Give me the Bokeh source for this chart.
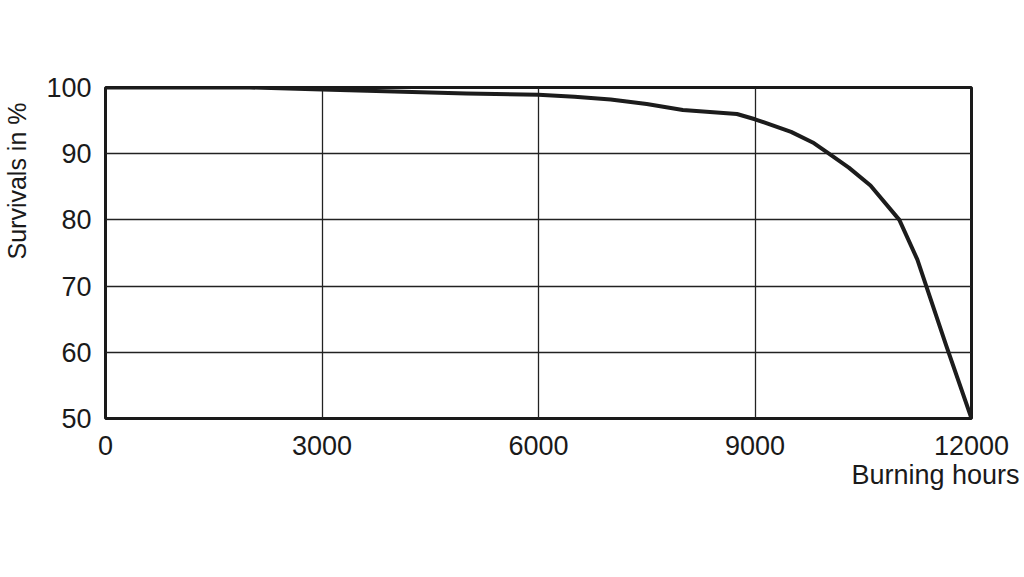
from bokeh.plotting import figure
from bokeh.models import Range1d, FixedTicker, Title
from bokeh.embed import file_html
from bokeh.resources import INLINE

# Data
hours = [0, 2000, 3000, 4000, 5000, 6000, 6500, 7000, 7500, 8000, 8750,
         9000, 9500, 9800, 10000, 10300, 10600, 11000, 11250, 11650, 12000]
survivals = [100, 100, 99.7, 99.4, 99.1, 98.9, 98.6, 98.2, 97.5, 96.6, 96.0,
             95.2, 93.3, 91.7, 90.2, 87.9, 85.2, 80.0, 74.0, 61.0, 50.0]
x_ticks = [0, 3000, 6000, 9000, 12000]
y_ticks = [50, 60, 70, 80, 90, 100]
x_label = "Burning hours"
y_label = "Survivals in %"

FONT = "Liberation Sans"

p = figure(width=1020, height=575, output_backend="svg", toolbar_location=None,
           x_range=Range1d(0, 12000), y_range=Range1d(50, 100),
           min_border_left=105, min_border_right=49, min_border_top=87,
           min_border_bottom=157)

p.outline_line_color = "#1a1a1a"
p.outline_line_width = 3
p.background_fill_color = "white"
p.border_fill_color = "white"

p.xaxis.ticker = FixedTicker(ticks=x_ticks)
p.yaxis.ticker = FixedTicker(ticks=y_ticks)
for ax in (p.xaxis, p.yaxis):
    ax.axis_line_color = None
    ax.major_tick_line_color = None
    ax.minor_tick_line_color = None
    ax.major_tick_out = 0
    ax.major_tick_in = 0
    ax.major_label_text_font = FONT
    ax.major_label_text_font_size = "27px"
    ax.major_label_text_color = "#1a1a1a"
p.xaxis.major_label_standoff = 17
p.yaxis.major_label_standoff = 14
# invisible spacer label to push the title outward
p.yaxis.axis_label = " "
p.yaxis.axis_label_text_font_size = "2px"
p.yaxis.axis_label_standoff = 8

p.xgrid.ticker = FixedTicker(ticks=[3000, 6000, 9000])
p.ygrid.ticker = FixedTicker(ticks=[60, 70, 80, 90])
for g in (p.xgrid, p.ygrid):
    g.grid_line_color = "#222222"
    g.grid_line_width = 1.3
    g.grid_line_alpha = 1.0

p.line(hours, survivals, line_color="#1c1c1c", line_width=4, line_join="round")

p.add_layout(Title(text=x_label, align="right", offset=-48, standoff=0,
                   text_font=FONT, text_font_size="27px",
                   text_font_style="normal", text_color="#1a1a1a"), "below")
p.add_layout(Title(text=y_label, align="right", offset=15, standoff=0,
                   text_font=FONT, text_font_size="25px",
                   text_font_style="normal", text_color="#1a1a1a"), "left")

open("out.html", "w").write(file_html(p, INLINE))
